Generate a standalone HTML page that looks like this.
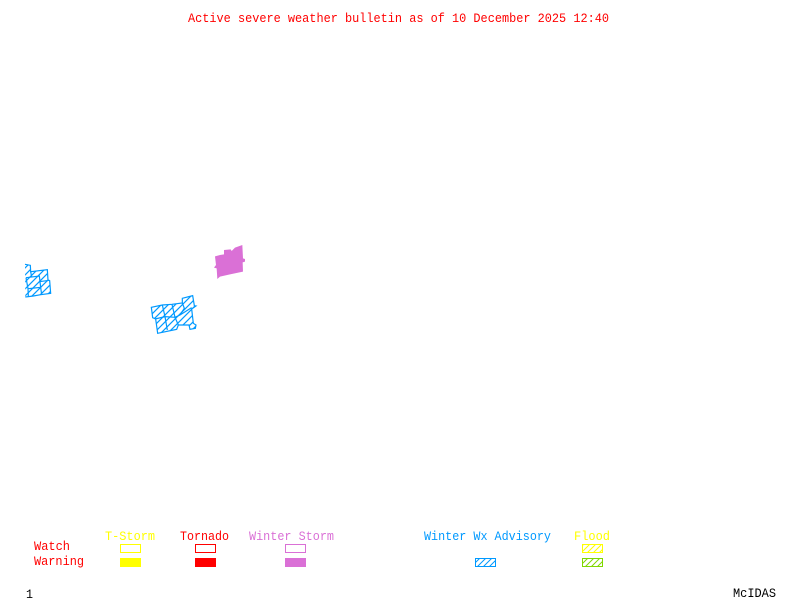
<!DOCTYPE html>
<html><head><meta charset="utf-8"><style>
html,body{margin:0;padding:0;background:#fff}
svg{display:block}
text{font-family:"Liberation Mono",monospace;font-size:13px}
</style></head><body>
<svg width="800" height="600" viewBox="0 0 800 600" xmlns="http://www.w3.org/2000/svg">
<defs>
<pattern id="hb3" patternUnits="userSpaceOnUse" width="21" height="21"><path d="M-3 3L3 -3M0 21L21 0M18 24L24 18" stroke="#0099ff" stroke-width="3.6" fill="none"/></pattern>
<pattern id="hb" patternUnits="userSpaceOnUse" width="6" height="6"><path d="M-1 1L1 -1M0 6L6 0M5 7L7 5" stroke="#0099ff" stroke-width="1" fill="none"/></pattern>
<pattern id="hy" patternUnits="userSpaceOnUse" width="6" height="6"><path d="M-1 1L1 -1M0 6L6 0M5 7L7 5" stroke="#ffff00" stroke-width="1" fill="none"/></pattern>
<pattern id="hg" patternUnits="userSpaceOnUse" width="6" height="6"><path d="M-1 1L1 -1M0 6L6 0M5 7L7 5" stroke="#7fd800" stroke-width="1" fill="none"/></pattern>
</defs>
<text x="188" y="22" fill="#ff0000" textLength="421" lengthAdjust="spacingAndGlyphs">Active severe weather bulletin as of 10 December 2025 12:40</text>

<g transform="translate(0,230) scale(.3333)" stroke="#0099ff" stroke-width="3.6" fill="none">
<path fill="url(#hb3)" stroke="none" d="M75 103L91 106L92 125L142 119L144 150L149 152L152 190L122 194L100 198L76 201Z"/>
<path d="M75 103L91 106L92 125L142 119L144 150L149 152L152 190L122 194L100 198L76 201"/>
<path d="M78 143L118 138L122 172L84 176L78 143M92 125L95 141M118 155L148 151M122 172L125 194M84 176L85 198"/>
</g>

<g transform="translate(140,235) scale(.3333)" stroke="#0099ff" stroke-width="3.6" fill="url(#hb3)">
<path d="M34 217L67 210L96 208L127 204L127 190L158 182L163 212L168 213L155 222L160 265L168 270L166 280L150 283L147 270L115 270L110 283L53 295L47 252L38 248Z"/>
<path fill="none" d="M45 252L75 245L105 247L120 240L155 218M67 210L75 245L82 285M96 208L105 247L115 270M127 204L133 220L120 240"/>
</g>

<g transform="translate(140,235) scale(.3333)">
<path fill="#da70d6" d="M225 64L240 60L252 58L252 45L272 43L275 48L285 38L307 30L309 70L315 72L315 80L308 82L309 110L270 118L240 125L232 132L230 100L222 98L228 90Z"/>
</g>

<text x="105" y="540" fill="#ffff00" textLength="50" lengthAdjust="spacingAndGlyphs">T-Storm</text>
<text x="180" y="540" fill="#ff0000" textLength="49" lengthAdjust="spacingAndGlyphs">Tornado</text>
<text x="249" y="540" fill="#da70d6" textLength="85" lengthAdjust="spacingAndGlyphs">Winter Storm</text>
<text x="424" y="540" fill="#0099ff" textLength="127" lengthAdjust="spacingAndGlyphs">Winter Wx Advisory</text>
<text x="574" y="540" fill="#ffff00" textLength="36" lengthAdjust="spacingAndGlyphs">Flood</text>
<text x="34" y="550" fill="#ff0000" textLength="36" lengthAdjust="spacingAndGlyphs">Watch</text>
<text x="34" y="565" fill="#ff0000" textLength="50" lengthAdjust="spacingAndGlyphs">Warning</text>

<g fill="none" stroke-width="1" shape-rendering="crispEdges">
<rect x="120.5" y="544.5" width="20" height="8" stroke="#ffff00"/>
<rect x="195.5" y="544.5" width="20" height="8" stroke="#ff0000"/>
<rect x="285.5" y="544.5" width="20" height="8" stroke="#da70d6"/>
<rect x="582.5" y="544.5" width="20" height="8" stroke="#ffff00" fill="url(#hy)"/>
<rect x="475.5" y="558.5" width="20" height="8" stroke="#0099ff" fill="url(#hb)"/>
<rect x="582.5" y="558.5" width="20" height="8" stroke="#7fd800" fill="url(#hg)"/>
</g>
<g shape-rendering="crispEdges">
<rect x="120" y="558" width="21" height="9" fill="#ffff00"/>
<rect x="195" y="558" width="21" height="9" fill="#ff0000"/>
<rect x="285" y="558" width="21" height="9" fill="#da70d6"/>
</g>

<text x="26" y="598" fill="#000" textLength="7" lengthAdjust="spacingAndGlyphs">1</text>
<text x="733" y="597" fill="#000" textLength="43" lengthAdjust="spacingAndGlyphs">McIDAS</text>
</svg>
</body></html>
